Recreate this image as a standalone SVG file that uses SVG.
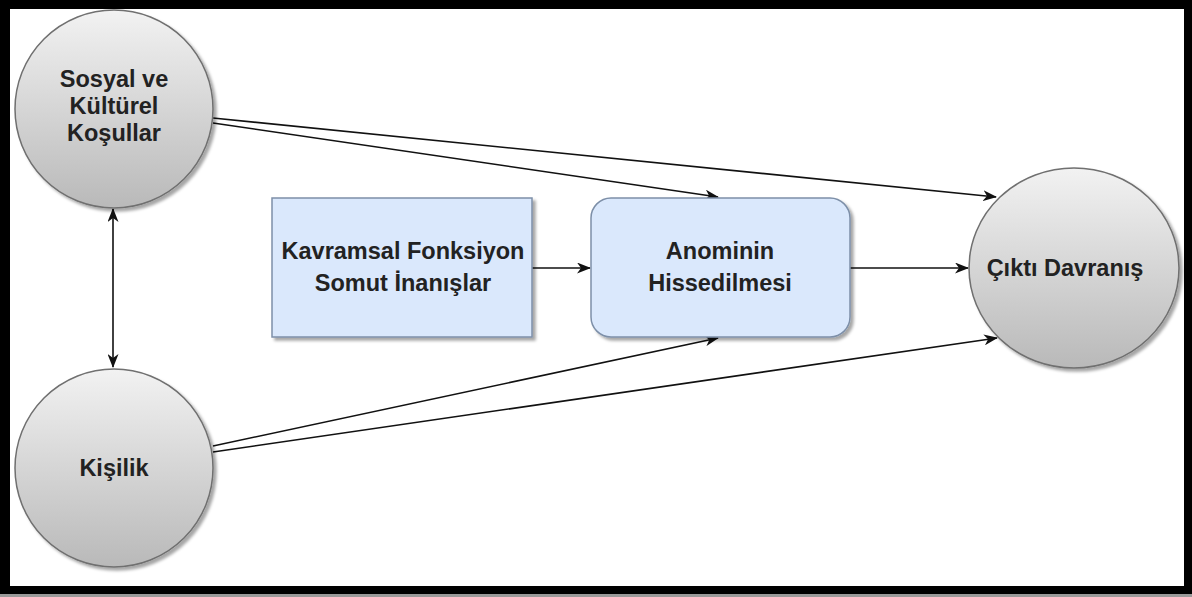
<svg xmlns="http://www.w3.org/2000/svg" width="1192" height="597" viewBox="0 0 1192 597">
  <defs>
    <style>
      .lbl { font-family: "Liberation Sans", Arial, sans-serif; font-weight: bold; font-size: 23.5px; fill: #222; text-anchor: middle; }
      .circ { fill: url(#greyGrad); stroke: #6f6f6f; stroke-width: 1.5; filter: url(#shadow); }
      .box { fill: #dae8fc; stroke: #7d8fa8; stroke-width: 1.5; filter: url(#shadow); }
      .edge { fill: none; stroke: #111; stroke-width: 1.6; }
    </style>
    <linearGradient id="greyGrad" x1="0" y1="0" x2="0" y2="1">
      <stop offset="0" stop-color="#f2f2f2"/>
      <stop offset="1" stop-color="#b9b9b9"/>
    </linearGradient>
    <filter id="shadow" x="-10%" y="-10%" width="125%" height="125%">
      <feDropShadow dx="3" dy="3" stdDeviation="1.6" flood-color="#000" flood-opacity="0.35"/>
    </filter>
    <marker id="arrow" viewBox="0 0 14 11" refX="13" refY="5.5" markerWidth="14" markerHeight="11" markerUnits="userSpaceOnUse" orient="auto-start-reverse">
      <path d="M0,0 L14,5.5 L0,11 L4,5.5 z" fill="#111"/>
    </marker>
  </defs>

  <!-- frame -->
  <rect x="0" y="594" width="1192" height="3" fill="#9a9a9a"/>
  <rect x="0" y="0" width="1192" height="594" fill="#000"/>
  <rect x="10" y="9" width="1174" height="577" fill="#fff"/>

  <!-- connectors -->
  <g id="connectors">
    <line class="edge" x1="213" y1="118" x2="996" y2="197" marker-end="url(#arrow)"/>
    <line class="edge" x1="213" y1="123" x2="718" y2="197" marker-end="url(#arrow)"/>
    <line class="edge" x1="213" y1="446" x2="718" y2="338" marker-end="url(#arrow)"/>
    <line class="edge" x1="213" y1="452" x2="997" y2="338" marker-end="url(#arrow)"/>
    <line class="edge" x1="532" y1="268" x2="590" y2="268" marker-end="url(#arrow)"/>
    <line class="edge" x1="850" y1="268" x2="968" y2="268" marker-end="url(#arrow)"/>
    <line class="edge" x1="113" y1="209" x2="113" y2="367" marker-start="url(#arrow)" marker-end="url(#arrow)"/>
  </g>

  <!-- nodes -->
  <g id="sosyal">
    <ellipse class="circ" cx="114" cy="109" rx="99" ry="99"/>
    <text class="lbl" x="114" y="87">Sosyal ve</text>
    <text class="lbl" x="114" y="114">Kültürel</text>
    <text class="lbl" x="114" y="141">Koşullar</text>
  </g>

  <g id="kisilik">
    <ellipse class="circ" cx="114" cy="468" rx="99" ry="99"/>
    <text class="lbl" x="114" y="476">Kişilik</text>
  </g>

  <g id="kavramsal">
    <rect class="box" x="272" y="198" width="260" height="139"/>
    <text class="lbl" x="403" y="259">Kavramsal Fonksiyon</text>
    <text class="lbl" x="403" y="291">Somut İnanışlar</text>
  </g>

  <g id="anomi">
    <rect class="box" x="591" y="198" width="259" height="139" rx="20" ry="20"/>
    <text class="lbl" x="720" y="259">Anominin</text>
    <text class="lbl" x="720" y="291">Hissedilmesi</text>
  </g>

  <g id="cikti">
    <ellipse class="circ" cx="1074" cy="268" rx="105" ry="100"/>
    <text class="lbl" x="1065" y="276">Çıktı Davranış</text>
  </g>
</svg>
